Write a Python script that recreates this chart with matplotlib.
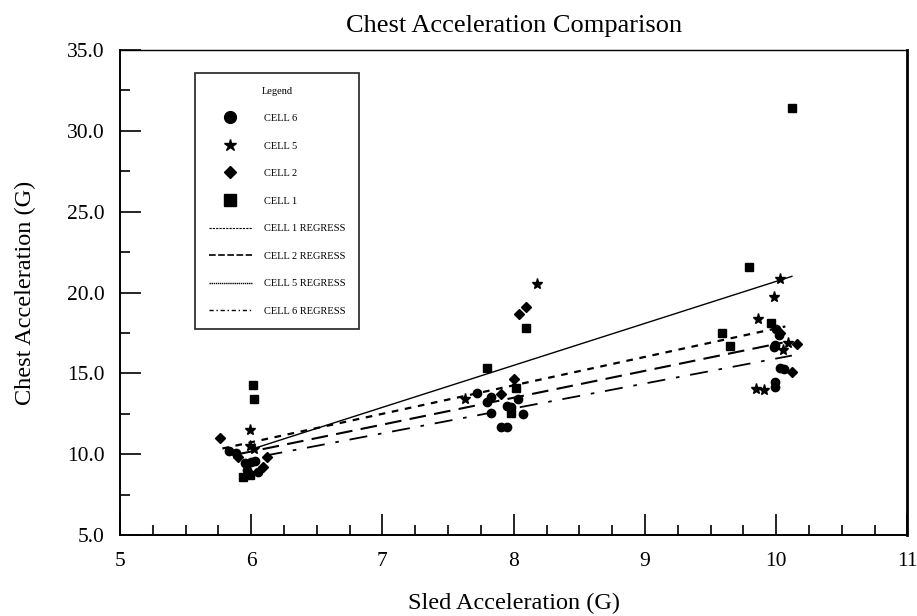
import matplotlib.pyplot as plt
from matplotlib.lines import Line2D
from matplotlib.ticker import MultipleLocator

plt.rcParams['font.family'] = ['Liberation Serif', 'DejaVu Serif']

# scatter data
cell6_x = [5.83, 5.88, 5.95, 6.00, 6.03, 6.05, 5.97, 7.72, 7.83, 7.80, 8.03, 7.95, 7.98, 8.07, 7.83, 7.90, 7.95,
           10.00, 10.02, 9.98, 9.99, 10.03, 10.06, 9.99, 9.99]
cell6_y = [10.22, 10.10, 9.44, 9.50, 9.60, 8.92, 9.05, 13.77, 13.52, 13.25, 13.42, 13.00, 12.94, 12.47, 12.53, 11.67, 11.67,
           17.73, 17.38, 16.65, 16.76, 15.30, 15.27, 14.45, 14.18]

cell5_x = [5.99, 5.99, 6.02, 8.18, 7.63, 10.03, 9.98, 9.86, 10.09, 10.05, 9.85, 9.91]
cell5_y = [11.50, 10.50, 10.30, 20.53, 13.40, 20.84, 19.70, 18.34, 16.90, 16.45, 14.03, 13.97]

cell2_x = [5.76, 5.90, 6.12, 6.09, 5.98, 8.09, 8.04, 8.00, 7.90, 10.03, 10.16, 10.12]
cell2_y = [11.00, 9.85, 9.85, 9.23, 8.84, 19.09, 18.67, 14.65, 13.73, 17.48, 16.80, 15.07]

cell1_x = [6.01, 6.02, 5.94, 5.99, 8.09, 7.80, 8.02, 7.98, 10.12, 9.79, 9.96, 9.59, 9.65]
cell1_y = [14.28, 13.40, 8.60, 8.70, 17.79, 15.35, 14.08, 12.57, 31.39, 21.60, 18.10, 17.48, 16.72]

# regression line end points
reg1_x = [6.00, 10.12]
reg1_y = [10.30, 21.00]
reg2_x = [5.90, 10.05]
reg2_y = [10.00, 16.90]
reg5_x = [5.78, 10.07]
reg5_y = [10.35, 17.90]
reg6_x = [6.10, 10.12]
reg6_y = [9.90, 16.10]

labels = ['CELL 6', 'CELL 5', 'CELL 2', 'CELL 1',
          'CELL 1 REGRESS', 'CELL 2 REGRESS', 'CELL 5 REGRESS', 'CELL 6 REGRESS']

fig = plt.figure(figsize=(9.17, 6.16), dpi=100)
ax = fig.add_axes([0.1309, 0.1315, 0.8586, 0.7873])

ax.plot(cell6_x, cell6_y, 'o', color='black', ms=6, ls='none')
ax.plot(cell5_x, cell5_y, '*', color='black', ms=8, ls='none')
ax.plot(cell2_x, cell2_y, 'D', color='black', ms=5, ls='none')
ax.plot(cell1_x, cell1_y, 's', color='black', ms=6, ls='none')

ax.plot(reg1_x, reg1_y, color='black', lw=1.0)
ax.plot(reg2_x, reg2_y, color='black', lw=1.5, ls=(0, (8, 4)))
ax.plot(reg5_x, reg5_y, color='black', lw=1.6, ls=(0, (3, 3)))
ax.plot(reg6_x, reg6_y, color='black', lw=1.3, ls=(0, (10, 6, 2, 6)))

ax.set_xlim(5, 11)
ax.set_ylim(5, 35)
ax.xaxis.set_major_locator(MultipleLocator(1))
ax.xaxis.set_minor_locator(MultipleLocator(0.25))
ax.yaxis.set_major_locator(MultipleLocator(5))
ax.yaxis.set_minor_locator(MultipleLocator(2.5))
ax.yaxis.set_major_formatter(plt.FormatStrFormatter('%.1f'))
ax.tick_params(which='major', direction='in', length=15, width=1.2, labelsize=15.5)
ax.tick_params(which='minor', direction='in', length=7.5, width=1.2)
ax.tick_params(axis='x', pad=12)
ax.tick_params(axis='y', pad=11)

for s in ax.spines.values():
    s.set_linewidth(1.4)
ax.spines['top'].set_linewidth(1.0)
ax.spines['right'].set_linewidth(2.0)

ax.set_title('Chest Acceleration Comparison', fontsize=19, pad=13)
ax.set_xlabel('Sled Acceleration (G)', fontsize=17.5, labelpad=16)
ax.set_ylabel('Chest Acceleration (G)', fontsize=17.5, labelpad=22)

handles = [
    Line2D([], [], marker='o', color='black', ls='none', ms=8.5),
    Line2D([], [], marker='*', color='black', ls='none', ms=9),
    Line2D([], [], marker='D', color='black', ls='none', ms=6.5),
    Line2D([], [], marker='s', color='black', ls='none', ms=8),
    Line2D([], [], color='black', lw=0.8, ls=(0, (2, 1))),
    Line2D([], [], color='black', lw=1.2, ls=(0, (4, 1.5))),
    Line2D([], [], color='black', lw=1.0, ls=(0, (1, 0.5))),
    Line2D([], [], color='black', lw=1.0, ls=(0, (3, 2, 1, 2))),
]
leg = ax.legend(handles, labels, title='Legend', loc='upper left',
                bbox_to_anchor=(0.0953, 0.9526), borderaxespad=0,
                fontsize=7.5, title_fontsize=7.5, frameon=True, fancybox=False,
                edgecolor='black', handlelength=4.2, labelspacing=1.75,
                borderpad=1.3, handletextpad=1.15)
leg.get_frame().set_linewidth(1.3)

fig.savefig('out.png', dpi=100)
